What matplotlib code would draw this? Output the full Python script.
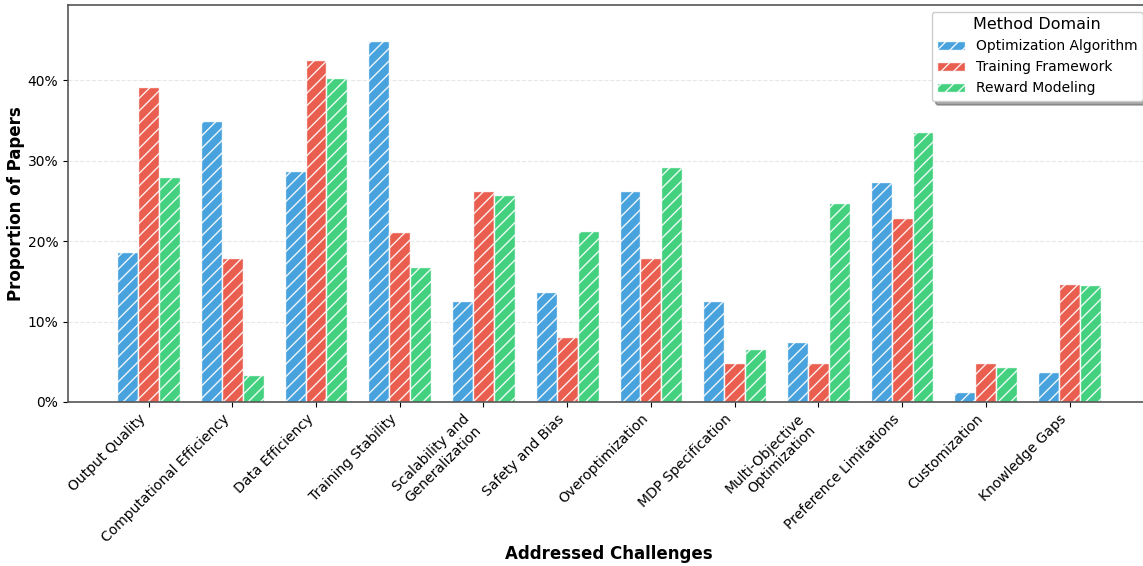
import numpy as np
import matplotlib
matplotlib.use("Agg")
from matplotlib import pyplot as plt
from matplotlib.ticker import PercentFormatter

challenges = [
    "Output Quality", "Computational Efficiency", "Data Efficiency",
    "Training Stability", "Scalability and\nGeneralization", "Safety and Bias",
    "Overoptimization", "MDP Specification", "Multi-Objective\nOptimization",
    "Preference Limitations", "Customization", "Knowledge Gaps",
]

# share of papers per challenge, one list per method domain
optimization_algorithm = [0.187, 0.349, 0.287, 0.449, 0.125, 0.137,
                          0.262, 0.125, 0.075, 0.274, 0.012, 0.037]
training_framework = [0.392, 0.179, 0.425, 0.212, 0.262, 0.081,
                      0.179, 0.049, 0.049, 0.229, 0.049, 0.147]
reward_modeling = [0.280, 0.034, 0.403, 0.168, 0.258, 0.213,
                   0.292, 0.066, 0.247, 0.336, 0.044, 0.145]

domains = ["Optimization Algorithm", "Training Framework", "Reward Modeling"]
colors = ["#3498db", "#e74c3c", "#2ecc71"]

# rendered at 150 dpi; point sizes are scaled by k so text keeps its pixel size
DPI = 150
k = 100 / DPI
plt.rcParams.update({
    "hatch.linewidth": 1.0 * k,
    "xtick.major.size": 3.5 * k,
    "ytick.major.size": 3.5 * k,
    "xtick.major.width": 0.8 * k,
    "ytick.major.width": 0.8 * k,
    "xtick.major.pad": 3.5 * k,
    "ytick.major.pad": 3.5 * k,
})

fig = plt.figure(figsize=(1143 / DPI, 566 / DPI), dpi=DPI)
ax = fig.add_axes([0.0595, 0.2898, 0.9467, 0.7014])

x = np.arange(len(challenges))
width = 0.25
series = [optimization_algorithm, training_framework, reward_modeling]
for i, (vals, name, col) in enumerate(zip(series, domains, colors)):
    ax.bar(x + (i - 1) * width, vals, width, label=name, color=col,
           alpha=0.9, edgecolor="white", linewidth=1 * k, hatch="////")

ax.set_xticks(x)
ax.set_xticklabels(challenges, rotation=45, ha="right", fontsize=10 * k)
ax.set_ylim(0, max(optimization_algorithm) * 1.1)
ax.yaxis.set_major_formatter(PercentFormatter(1.0, decimals=0))
ax.tick_params(axis="y", labelsize=10 * k)

ax.set_xlabel("Addressed Challenges", fontsize=12 * k, fontweight="bold", labelpad=0)
ax.set_ylabel("Proportion of Papers", fontsize=12 * k, fontweight="bold", labelpad=2 * k)

ax.grid(axis="y", linestyle="--", alpha=0.3, linewidth=0.8 * k)
ax.set_axisbelow(True)
for s in ax.spines.values():
    s.set_color("#555555")
    s.set_linewidth(1.2 * k)

leg = ax.legend(title="Method Domain", loc="upper right", fontsize=10 * k,
                title_fontsize=11.5 * k, frameon=True, fancybox=True, shadow=True)
leg.get_frame().set_linewidth(1.0 * k)

fig.savefig("out.png", dpi=DPI)
